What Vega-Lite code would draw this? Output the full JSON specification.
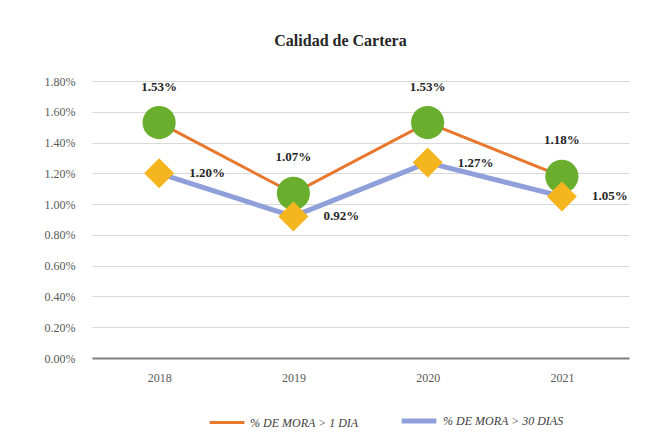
{
  "$schema": "https://vega.github.io/schema/vega-lite/v6.json",
  "autosize": "none",
  "width": 537,
  "height": 277,
  "padding": {"left": 92, "top": 81, "right": 23, "bottom": 85},
  "background": "#ffffff",
  "title": {
    "text": "Calidad de Cartera",
    "font": "Liberation Serif",
    "fontSize": 16,
    "fontWeight": "bold",
    "color": "#262626",
    "offset": 26,
    "dx": -20
  },
  "data": {
    "values": [
      {"year": "2018", "series": "% DE MORA > 1 DIA", "value": 0.0153},
      {"year": "2019", "series": "% DE MORA > 1 DIA", "value": 0.0107},
      {"year": "2020", "series": "% DE MORA > 1 DIA", "value": 0.0153},
      {"year": "2021", "series": "% DE MORA > 1 DIA", "value": 0.0118},
      {"year": "2018", "series": "% DE MORA > 30 DIAS", "value": 0.0120},
      {"year": "2019", "series": "% DE MORA > 30 DIAS", "value": 0.0092},
      {"year": "2020", "series": "% DE MORA > 30 DIAS", "value": 0.0127},
      {"year": "2021", "series": "% DE MORA > 30 DIAS", "value": 0.0105}
    ]
  },
  "encoding": {
    "x": {
      "field": "year", "type": "ordinal",
      "scale": {"type": "point", "padding": 0.5},
      "axis": {
        "title": null, "labelAngle": 0, "ticks": false, "grid": false,
        "domainColor": "#7f7f7f", "domainWidth": 2,
        "labelFont": "Liberation Serif", "labelFontSize": 12, "labelColor": "#595959",
        "labelPadding": 14
      }
    },
    "y": {
      "field": "value", "type": "quantitative",
      "scale": {"domain": [0, 0.018], "nice": false},
      "axis": {
        "title": null, "format": ".2%", "values": [0, 0.002, 0.004, 0.006, 0.008, 0.01, 0.012, 0.014, 0.016, 0.018],
        "domain": false, "ticks": false, "gridColor": "#d9d9d9", "gridWidth": 1,
        "labelFont": "Liberation Serif", "labelFontSize": 12, "labelColor": "#595959",
        "labelPadding": 17
      }
    }
  },
  "layer": [
    {
      "mark": {"type": "line", "strokeCap": "butt"},
      "encoding": {
        "stroke": {
          "field": "series", "type": "nominal",
          "scale": {"domain": ["% DE MORA > 1 DIA", "% DE MORA > 30 DIAS"], "range": ["#E8772E", "#8E9FD9"]},
          "legend": {
            "orient": "none", "legendX": 116, "legendY": 320,
            "direction": "horizontal", "title": null,
            "symbolType": "stroke", "symbolSize": 1200, "symbolStrokeWidth": 4,
            "labelFont": "Liberation Serif", "labelFontStyle": "italic", "labelFontSize": 12,
            "labelColor": "#404040", "columnPadding": 32, "labelOffset": 4
          }
        },
        "strokeWidth": {
          "field": "series", "type": "nominal",
          "scale": {"domain": ["% DE MORA > 1 DIA", "% DE MORA > 30 DIAS"], "range": [3, 5]},
          "legend": null
        }
      }
    },
    {
      "mark": {"type": "point", "filled": true, "opacity": 1},
      "encoding": {
        "fill": {
          "field": "series", "type": "nominal",
          "scale": {"domain": ["% DE MORA > 1 DIA", "% DE MORA > 30 DIAS"], "range": ["#6AAE2E", "#F5B51F"]},
          "legend": null
        },
        "shape": {
          "field": "series", "type": "nominal",
          "scale": {"domain": ["% DE MORA > 1 DIA", "% DE MORA > 30 DIAS"], "range": ["circle", "diamond"]},
          "legend": null
        },
        "size": {
          "field": "series", "type": "nominal",
          "scale": {"domain": ["% DE MORA > 1 DIA", "% DE MORA > 30 DIAS"], "range": [1100, 900]},
          "legend": null
        }
      }
    },
    {
      "transform": [{"filter": "datum.series === '% DE MORA > 1 DIA'"}],
      "mark": {"type": "text", "dy": -36, "font": "Liberation Serif", "fontSize": 13, "fontWeight": "bold", "color": "#262626"},
      "encoding": {"text": {"field": "value", "type": "quantitative", "format": ".2%"}}
    },
    {
      "transform": [{"filter": "datum.series === '% DE MORA > 30 DIAS'"}],
      "mark": {"type": "text", "dx": 30, "align": "left", "font": "Liberation Serif", "fontSize": 13, "fontWeight": "bold", "color": "#262626"},
      "encoding": {"text": {"field": "value", "type": "quantitative", "format": ".2%"}}
    }
  ],
  "resolve": {"legend": {"stroke": "independent", "fill": "independent", "shape": "independent", "size": "independent", "strokeWidth": "independent"}},
  "config": {"view": {"stroke": null}}
}
